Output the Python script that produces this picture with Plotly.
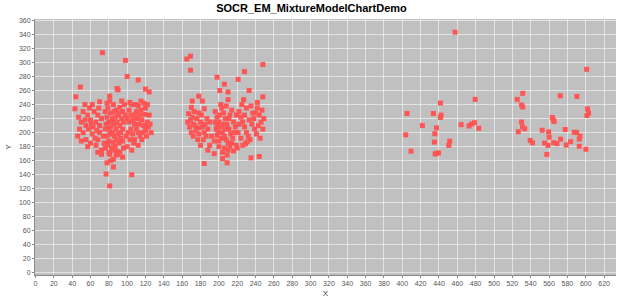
import plotly.graph_objects as go

# Cluster 1 (x, y)
c1_x = [73, 98, 100, 112, 49, 89, 90, 44, 81, 81, 54, 70, 103, 43, 124, 120,
        77, 81, 105, 85, 82, 72, 81, 90, 78, 68, 95,
        47, 50, 48, 52, 46, 55, 57, 60, 58, 62, 55, 60, 65, 63, 66, 68, 64, 59, 52, 50, 57, 66, 70, 70, 72, 69, 62, 54, 61, 67,
        76, 78, 80, 82, 84, 86, 88, 80, 78, 76, 79, 82, 84, 86, 88, 90, 92, 94, 90, 88, 85, 92, 95, 93, 91, 87, 83, 79, 75, 77,
        81, 85, 89, 91, 83, 87, 93, 95, 80, 86, 84, 89, 76, 74, 96, 98, 97, 99, 78, 94,
        102, 104, 106, 108, 110, 112, 114, 116, 104, 106, 108, 110, 112, 114, 116, 118, 120, 122, 124, 120, 118, 115, 113, 111,
        109, 105, 102, 101, 103, 107, 117, 121, 123, 119, 125, 100, 115, 122, 126, 108,
        72, 80, 88, 96, 100, 105, 112, 95, 68, 85, 92]
c1_y = [314, 303, 280, 275, 265, 263, 261, 251, 252, 245, 240, 244, 243, 234, 258, 262,
        141, 124, 140, 151, 160, 169, 169, 169, 157, 172, 165,
        222, 215, 205, 200, 195, 210, 225, 218, 205, 198, 190, 185, 192, 208, 215, 225, 230, 235, 230, 188, 180, 182, 200, 210, 220, 235, 240, 218, 212, 203,
        230, 222, 215, 208, 200, 195, 190, 188, 195, 205, 235, 228, 220, 212, 205, 198, 210, 220, 225, 232, 240, 236, 205, 192, 185, 180, 178, 182, 185, 212,
        198, 186, 215, 228, 215, 222, 200, 230, 205, 230, 175, 173, 178, 195, 215, 225, 240, 195, 242, 245,
        232, 225, 218, 212, 205, 200, 195, 190, 205, 198, 190, 230, 238, 225, 218, 210, 203, 215, 225, 235, 242, 232, 212, 220,
        240, 240, 215, 200, 190, 185, 200, 195, 208, 226, 212, 220, 245, 240, 200, 225,
        175, 172, 168, 178, 180, 175, 182, 188, 190, 162, 172]

# Cluster 2
c2_x = [165, 169, 169, 248, 198, 228, 221, 206, 201, 210, 233, 248, 178, 171, 227, 210, 242, 182, 170, 184, 167,
        180, 190, 184, 209, 219, 229, 235, 244, 204,
        166, 168, 170, 172, 174, 176, 178, 175, 180, 182, 184, 186, 178, 171, 173, 169, 181, 185, 188, 183, 177, 187, 190, 172, 179,
        196, 198, 200, 202, 204, 206, 208, 210, 200, 198, 197, 203, 205, 207, 209, 211, 213, 215, 212, 214, 216, 218, 206, 204,
        210, 212, 200, 202, 208, 196, 199, 203, 207, 205, 201, 211, 217, 219, 195, 214, 209, 216, 198,
        222, 224, 226, 228, 230, 232, 234, 236, 238, 240, 242, 244, 246, 248, 225, 230, 235, 228, 233, 239, 241, 245, 237, 222,
        221, 224, 247, 243, 231, 249,
        188, 195, 220, 226, 192]
c2_y = [305, 309, 289, 297, 279, 287, 276, 269, 260, 258, 260, 251, 252, 245, 247, 247, 243, 245, 236, 234, 227,
        182, 182, 156, 157, 182, 184, 164, 166, 163,
        215, 208, 200, 195, 210, 220, 228, 203, 215, 208, 200, 195, 198, 222, 230, 218, 225, 212, 205, 190, 190, 220, 215, 212, 207,
        230, 222, 215, 208, 200, 195, 190, 185, 188, 196, 205, 235, 228, 220, 212, 205, 198, 192, 225, 232, 215, 208, 178, 172,
        175, 180, 180, 240, 238, 215, 201, 192, 205, 212, 225, 220, 200, 225, 188, 185, 168, 174, 210,
        230, 222, 215, 208, 200, 195, 190, 212, 220, 228, 235, 225, 215, 205, 240, 235, 238, 225, 218, 205, 198, 192, 228, 212,
        200, 192, 232, 210, 187, 220,
        175, 170, 178, 182, 195]

# Cluster 3
c3_x = [457.5, 441.6, 479.4, 405.1, 433.9, 442.3, 441.6, 421.9, 437.2, 464.1, 472.8, 475.4, 478.7, 483.4,
        403.7, 435.4, 435.0, 451.7, 450.7, 409.5, 435.7, 439.4, 437.0]
c3_y = [343.2, 242.2, 247.4, 227.2, 227.2, 225.0, 221.6, 210.0, 206.7, 211.4, 209.5, 212.3, 214.2, 206.2,
        196.9, 198.3, 186.5, 187.9, 181.9, 173.5, 169.7, 171.1, 170.0]

# Cluster 4
c4_x = [601.0, 525.3, 531.3, 531.3, 572.2, 590.4, 530.0, 602.0, 603.1, 601.3, 563.5, 564.5, 565.6, 530.0, 531.1,
        552.5, 559.5, 577.6, 587.5, 590.1, 593.7, 560.1, 539.4, 572.6, 565.0, 568.6, 555.1, 583.5, 578.7, 592.9,
        592.9, 600.2, 557.6, 526.5, 533.5, 542.0, 558.9]
c4_y = [290.3, 247.4, 256.0, 236.5, 252.5, 251.6, 239.4, 233.8, 227.8, 224.4, 221.6, 218.4, 216.0, 215.1, 208.1,
        203.4, 201.1, 204.4, 200.6, 200.1, 195.0, 193.5, 188.9, 190.7, 185.7, 184.3, 185.1, 187.1, 182.3, 190.7,
        180.5, 176.3, 168.9, 201.3, 205.5, 185.5, 181.8]

xs = c1_x + c2_x + c3_x + c4_x
ys = c1_y + c2_y + c3_y + c4_y

x_ticks = list(range(0, 621, 20))
y_ticks = list(range(0, 361, 20))

fig = go.Figure()
fig.add_trace(go.Scatter(
    x=xs, y=ys, mode="markers",
    marker=dict(symbol="square", size=5, color="rgb(255,85,85)", line=dict(width=0)),
    showlegend=False, hoverinfo="x+y"))

tick_font = dict(family="Liberation Sans, Arial, sans-serif", size=7, color="#555555")
fig.update_layout(
    width=623, height=303,
    margin=dict(l=35, r=7, t=19, b=24),
    paper_bgcolor="white", plot_bgcolor="#c0c0c0",
    title=dict(text="<b>SOCR_EM_MixtureModelChartDemo</b>", x=0.5, xref="container",
               y=0.985, yref="container", yanchor="top",
               font=dict(family="Liberation Sans, Arial, sans-serif", size=11, color="black")),
    xaxis=dict(range=[-0.5, 633], tickvals=x_ticks, ticktext=[str(v) for v in x_ticks],
               showgrid=True, gridcolor="rgba(255,255,255,0.55)", gridwidth=1, zeroline=False,
               showline=True, linecolor="#888888", linewidth=1, ticks="outside", ticklen=2,
               tickcolor="#888888", tickfont=tick_font,
               title=dict(text="X", font=dict(family="Liberation Sans, Arial, sans-serif", size=8, color="#444444"), standoff=3)),
    yaxis=dict(range=[-3, 362], tickvals=y_ticks, ticktext=[str(v) for v in y_ticks],
               showgrid=True, gridcolor="rgba(255,255,255,0.55)", gridwidth=1, zeroline=False,
               showline=True, linecolor="#888888", linewidth=1, ticks="outside", ticklen=2,
               tickcolor="#888888", tickfont=tick_font,
               title=dict(text="Y", font=dict(family="Liberation Sans, Arial, sans-serif", size=8, color="#444444"), standoff=6)),
)
fig.write_html("out.html")
